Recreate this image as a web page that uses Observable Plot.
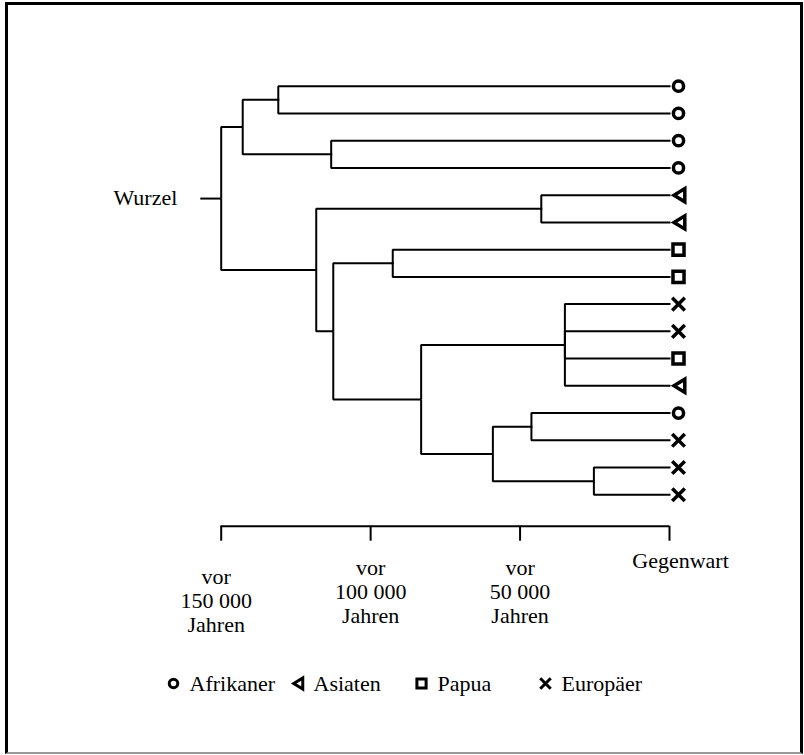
<!DOCTYPE html>
<html>
<head>
<meta charset="utf-8">
<script src="https://cdn.jsdelivr.net/npm/d3@7"></script>
<script src="https://cdn.jsdelivr.net/npm/@observablehq/plot@0.6"></script>
<style>
  html, body { margin: 0; padding: 0; background: #fff; }
  #page { position: relative; width: 804px; height: 755px; overflow: hidden; background: #fff; }
  #frame { position: absolute; left: 5px; top: 2px; width: 798px; height: 752px; box-sizing: border-box;
           border-top: 3px solid #000; border-left: 3px solid #000; border-right: 3px solid #000; border-bottom: 2px solid #999; }
  #chart { position: absolute; left: 0; top: 0; }
  #legend { position: absolute; left: 0; top: 663px; }
</style>
</head>
<body>
<div id="page">
  <div id="frame"></div>
  <div id="chart"></div>
  <div id="legend"></div>
</div>
<script>
// ---------- data ----------
const groups = ["Afrikaner", "Asiaten", "Papua", "Europäer"];

// leaves, top to bottom
const leafGroup = ["Afrikaner", "Afrikaner", "Afrikaner", "Afrikaner", "Asiaten", "Asiaten", "Papua", "Papua",
                   "Europäer", "Europäer", "Papua", "Asiaten", "Afrikaner", "Europäer", "Europäer", "Europäer"];
const leafParent = ["afr12", "afr12", "afr34", "afr34", "asi", "asi", "pap", "pap",
                    "multi", "multi", "multi", "multi", "pair1314", "pair1314", "pair1516", "pair1516"];

// internal nodes (age in thousand years before present)
const nodeIds    = ["root", "afr", "afr12", "afr34", "rest", "asi", "nonAfr", "pap", "mix", "multi", "mix2", "pair1314", "pair1516"];
const nodeParent = [null, "root", "afr", "afr", "root", "rest", "rest", "nonAfr", "nonAfr", "mix", "mix", "mix2", "mix2"];
const nodeAge    = [150, 142.8, 130.9, 113.2, 118.2, 42.9, 112.5, 92.6, 83.1, 35.0, 59.1, 46.2, 25.3];
const rootStubAge = 157;

const tickAges = [150, 100, 50, 0];
const tickLabels = ["vor\n150 000\nJahren", "vor\n100 000\nJahren", "vor\n50 000\nJahren", "Gegenwart"];

// ---------- tree layout (row = leaf index, parent row = middle of its children) ----------
const children = new Map();
const push = (p, c) => { if (!children.has(p)) children.set(p, []); children.get(p).push(c); };
nodeIds.forEach((id, i) => { if (nodeParent[i]) push(nodeParent[i], {kind: "node", id}); });
leafParent.forEach((p, i) => push(p, {kind: "leaf", i}));
const ageOf = new Map(nodeIds.map((id, i) => [id, nodeAge[i]]));
const rowCache = new Map();
function rowOf(item) {
  if (item.kind === "leaf") return item.i;
  if (rowCache.has(item.id)) return rowCache.get(item.id);
  const rows = children.get(item.id).map(rowOf);
  const r = (d3.min(rows) + d3.max(rows)) / 2;
  rowCache.set(item.id, r);
  return r;
}
const edges = [];
nodeIds.forEach((id, i) => {
  const p = nodeParent[i];
  if (!p) return;
  edges.push({x1: ageOf.get(p), y1: rowOf({kind: "node", id: p}), x2: nodeAge[i], y2: rowOf({kind: "node", id})});
});
const leafEdges = leafParent.map((p, i) => ({x1: ageOf.get(p), y1: rowOf({kind: "node", id: p}), x2: 0, y2: i}));
const leaves = leafGroup.map((g, i) => ({row: i, age: 0, group: g}));
const rootRow = rowOf({kind: "node", id: "root"});
const ticks = tickAges.map((a, i) => ({age: a, label: tickLabels[i]}));

// ---------- symbols ----------
const sym = f => ({draw(c, size) { f(c, Math.sqrt(size / Math.PI)); }});
const circleSym = sym((c, s) => { c.moveTo(0.85 * s, 0); c.arc(0, 0, 0.85 * s, 0, 2 * Math.PI); c.closePath(); });
const leftTriSym = sym((c, s) => { c.moveTo(-0.75 * s, 0); c.lineTo(1.05 * s, -1.1 * s); c.lineTo(1.05 * s, 1.1 * s); c.closePath(); });
const squareSym = sym((c, s) => { c.rect(-0.92 * s, -0.92 * s, 1.84 * s, 1.84 * s); });
const timesSym = sym((c, s) => { const r = 1.05 * s; c.moveTo(-r, -r); c.lineTo(r, r); c.moveTo(-r, r); c.lineTo(r, -r); });
const symbolRange = [circleSym, leftTriSym, squareSym, timesSym];

const axisLevel = 16.15; // time axis line, in row units

const font = {fontFamily: "'Liberation Serif', 'Times New Roman', serif", fontSize: "22px", background: "transparent", color: "#000", overflow: "visible"};

const chart = Plot.plot({
  width: 804, height: 640,
  marginTop: 0, marginLeft: 0, marginRight: 0, marginBottom: 114.3,
  x: {domain: [150, 0], range: [220.7, 669], axis: null},
  y: {domain: [0, 15], range: [85.7, 494.3], axis: null},
  symbol: {domain: groups, range: symbolRange},
  style: font,
  marks: [
    Plot.link([{a: rootStubAge, b: 150, y: rootRow}], {x1: "a", x2: "b", y1: "y", y2: "y", stroke: "#000", strokeWidth: 2}),
    Plot.link(edges, {x1: "x1", y1: "y1", x2: "x2", y2: "y2", curve: "step-before", stroke: "#000", strokeWidth: 2}),
    Plot.link(leafEdges, {x1: "x1", y1: "y1", x2: "x2", y2: "y2", curve: "step-before", stroke: "#000", strokeWidth: 2, strokeLinecap: "square"}),
    Plot.dot(leaves, {x: "age", y: "row", symbol: "group", r: 6, dx: 9, fill: "none", stroke: "#000", strokeWidth: 3.5}),
    Plot.text([{a: rootStubAge, y: rootRow}], {x: "a", y: "y", text: () => "Wurzel", textAnchor: "end", dx: -23, dy: -1, fontSize: 22}),
    // time axis
    Plot.ruleY([axisLevel], {x1: () => 150, x2: () => 0, stroke: "#000", strokeWidth: 2}),
    Plot.axisX({ticks: tickAges, tickSize: 15, tickFormat: () => "", strokeWidth: 2, anchor: "bottom"}),
    Plot.text(ticks, {filter: d => d.age === 150, x: "age", text: "label", frameAnchor: "bottom", lineAnchor: "top", lineHeight: 1.09, dx: -5, dy: 40.5, fontSize: 22}),
    Plot.text(ticks, {filter: d => d.age === 100 || d.age === 50, x: "age", text: "label", frameAnchor: "bottom", lineAnchor: "top", lineHeight: 1.09, dy: 31.7, fontSize: 22}),
    Plot.text(ticks, {filter: d => d.age === 0, x: "age", text: "label", frameAnchor: "bottom", lineAnchor: "top", lineHeight: 1.09, dx: 11, dy: 24.7, fontSize: 22})
  ]
});
document.getElementById("chart").appendChild(chart);

const legend = Plot.plot({
  width: 804, height: 40, margin: 0,
  x: {type: "point", domain: groups, range: [172, 546], padding: 0, axis: null},
  symbol: {domain: groups, range: symbolRange},
  style: font,
  marks: [
    Plot.dot(groups, {x: d => d, symbol: d => d, r: 5, fill: "none", stroke: "#000", strokeWidth: 3, frameAnchor: "middle"}),
    Plot.text(groups, {x: d => d, text: d => d, dx: 16, textAnchor: "start", frameAnchor: "middle", fontSize: 22})
  ]
});
document.getElementById("legend").appendChild(legend);
</script>
</body>
</html>
